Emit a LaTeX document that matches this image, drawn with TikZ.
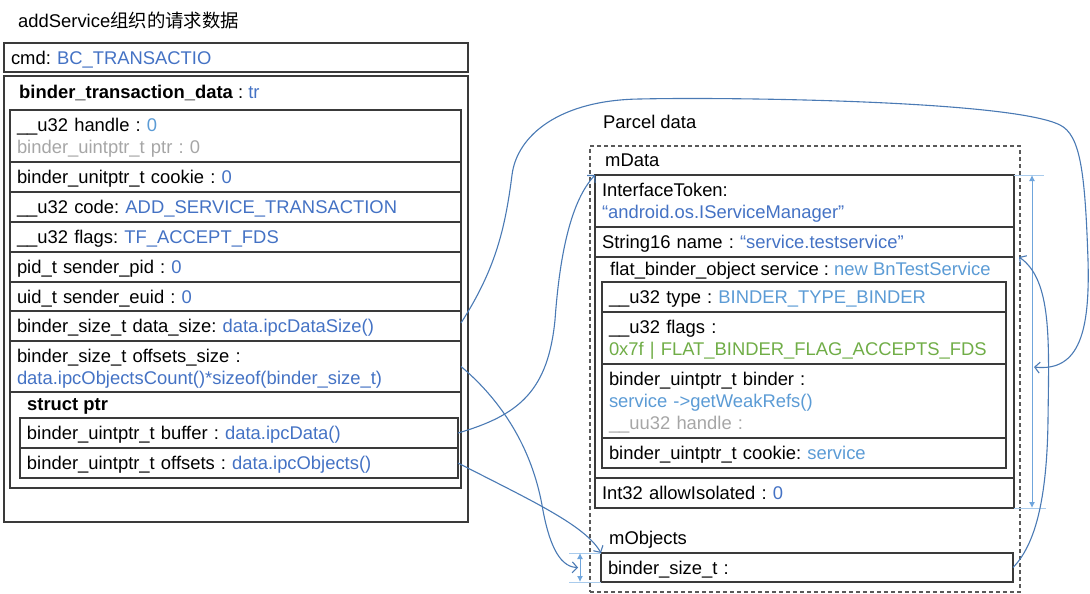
\documentclass[tikz,border=0pt]{standalone}
\usepackage{fontspec}
\setmainfont{Liberation Sans}
\newfontfamily\cjk{Noto Sans CJK SC}
\usetikzlibrary{arrows.meta, positioning}
\definecolor{blueA}{HTML}{4472C4}
\definecolor{blueB}{HTML}{5B9BD5}
\definecolor{greyT}{HTML}{A6A6A6}
\definecolor{greenT}{HTML}{70AD47}
\definecolor{linkblue}{HTML}{4A7AB4}
\definecolor{dimblue}{HTML}{6FA5DC}
\definecolor{extblue}{HTML}{A9CBEC}
\definecolor{edge}{HTML}{3A3A3A}
\newcommand{\blueval}[1]{\textcolor{blueA}{#1}}
\newcommand{\lightval}[1]{\textcolor{blueB}{#1}}
\newcommand{\greyval}[1]{\textcolor{greyT}{#1}}
\newcommand{\greenval}[1]{\textcolor{greenT}{#1}}
\tikzstyle{boxframe} = [rectangle, draw=edge, line width=1.2pt, anchor=north west, inner sep=0pt, outer sep=0pt]
\tikzstyle{row} = [rectangle, draw=edge, line width=1.2pt, anchor=north west, inner xsep=7pt, inner ysep=0pt, outer sep=0pt, align=left, text depth=0pt, minimum height=30pt]
\tikzstyle{twolines} = [text depth=22pt]
\tikzstyle{threelines} = [text depth=44pt]
\tikzstyle{lrow} = [row, text width=437pt]
\tikzstyle{brow} = [row, text width=424pt]
\tikzstyle{prow} = [row, text width=405pt]
\tikzstyle{frow} = [row, text width=390pt]
\tikzstyle{textlabel} = [anchor=west, inner sep=0pt, text depth=0pt]
\tikzstyle{arrow} = [line width=1.1pt, draw=linkblue, -{Straight Barb[length=5pt, width=11pt]}]
\tikzstyle{dimline} = [line width=1pt, draw=dimblue, {Latex[length=6pt, width=6pt]}-{Latex[length=6pt, width=6pt]}]
\tikzstyle{extline} = [line width=1pt, draw=extblue]
\begin{document}
\frenchspacing
\begin{tikzpicture}[x=1pt, y=-1pt, font=\fontsize{18.4pt}{22pt}\selectfont\frenchspacing]
    \useasboundingbox (0,0) rectangle (1090,594);
    % Nodes: request data
    \node (title) [textlabel] at (18,20) {addService{\cjk 组织的请求数据}};
    \node (cmd) [row, text width=450pt, minimum height=29pt] at (4,43) {cmd: \blueval{BC\_TRANSACTIO}};
    \node (tr) [boxframe, minimum width=464pt, minimum height=446pt] at (4,76) {};
    \node (trhead) [textlabel] at (19,92) {\textbf{binder\_transaction\_data} : \blueval{tr}};
    \node (trbody) [boxframe, minimum width=451pt, minimum height=378pt] at (10,110) {};
    \node (handle) [lrow, twolines, minimum height=52pt] at (trbody.north west) {\_\_u32 handle : \lightval{0}\\ \greyval{binder\_uintptr\_t ptr : 0}};
    \node (cookie) [lrow] at (handle.south west) {binder\_unitptr\_t cookie : \blueval{0}};
    \node (code) [lrow] at (cookie.south west) {\_\_u32 code: \blueval{ADD\_SERVICE\_TRANSACTION}};
    \node (flags) [lrow] at (code.south west) {\_\_u32 flags: \blueval{TF\_ACCEPT\_FDS}};
    \node (pid) [lrow] at (flags.south west) {pid\_t sender\_pid : \blueval{0}};
    \node (euid) [lrow, minimum height=29pt] at (pid.south west) {uid\_t sender\_euid : \blueval{0}};
    \node (datasize) [lrow] at (euid.south west) {binder\_size\_t data\_size: \blueval{data.ipcDataSize()}};
    \node (offsize) [lrow, twolines, minimum height=51pt] at (datasize.south west) {binder\_size\_t offsets\_size :\\ \blueval{data.ipcObjectsCount()*sizeof(binder\_size\_t)}};
    \node (ptrhead) [textlabel] at (27,404) {\textbf{struct ptr}};
    \node (buffer) [brow] at (20,418) {binder\_uintptr\_t buffer : \blueval{data.ipcData()}};
    \node (offsets) [brow] at (buffer.south west) {binder\_uintptr\_t offsets : \blueval{data.ipcObjects()}};

    % Nodes: parcel data
    \node (parcelhead) [textlabel] at (603,122) {Parcel data};
    \node (parcel) [boxframe, draw=black!65, dash pattern=on 4pt off 3pt, minimum width=430pt, minimum height=446pt] at (590,146) {};
    \node (mdatahead) [textlabel] at (605,160) {mData};
    \node (token) [prow, twolines, minimum height=52pt] at (595,175) {InterfaceToken:\\ \blueval{“android.os.IServiceManager”}};
    \node (name) [prow] at (token.south west) {String16 name : \blueval{“service.testservice”}};
    \node (flat) [prow, minimum height=221pt] at (name.south west) {};
    \node (flathead) [textlabel] at (610,269) {flat\_binder\_object service : \lightval{new BnTestService}};
    \node (type) [frow] at (602,282) {\_\_u32 type : \lightval{BINDER\_TYPE\_BINDER}};
    \node (bflags) [frow, twolines, minimum height=52pt] at (type.south west) {\_\_u32 flags :\\ \greenval{0x7f | FLAT\_BINDER\_FLAG\_ACCEPTS\_FDS}};
    \node (binder) [frow, threelines, minimum height=74pt] at (bflags.south west) {binder\_uintptr\_t binder :\\ \lightval{service ->getWeakRefs()}\\ \greyval{\_\_uu32 handle :}};
    \node (bcookie) [frow] at (binder.south west) {binder\_uintptr\_t cookie: \lightval{service}};
    \node (isolated) [prow] at (flat.south west) {Int32 allowIsolated : \blueval{0}};
    \node (mobjhead) [textlabel] at (609,538) {mObjects};
    \node (sizebox) [row, text width=398pt, minimum height=29pt] at (601,553) {binder\_size\_t :};

    % Size marks
    \coordinate (dimtop) at ([xshift=18pt]token.north east);
    \coordinate (dimbot) at ([xshift=18pt]isolated.south east);
    \coordinate (sizehit) at ([xshift=28pt, yshift=-3pt]bflags.south east);
    \coordinate (sdimtop) at ([xshift=-21pt]sizebox.north west);
    \coordinate (sdimbot) at ([xshift=-21pt]sizebox.south west);
    \coordinate (sdimhit) at ([xshift=-23pt]sizebox.west);
    \draw [extline] (token.north east) -- ++(30,0);
    \draw [extline] (isolated.south east) -- ++(32,0);
    \draw [dimline] (dimtop) -- (dimbot);
    \draw [extline] (sizebox.north west) -- ++(-32,0);
    \draw [extline] (sizebox.south west) -- ++(-32,0);
    \draw [dimline] (sdimtop) -- (sdimbot);

    % Arrows
    \draw [arrow] ([yshift=3pt]datasize.east) .. controls (495,270) and (505,230) .. (512,175)
        .. controls (517,135) and (560,100) .. (640,99)
        .. controls (720,97) and (1010,100) .. (1060,125)
        .. controls (1080,135) and (1085,170) .. (1088,260)
        .. controls (1090,330) and (1080,372) .. (sizehit);
    \draw [arrow] (buffer.east) .. controls (520,415) and (548,390) .. (555,320)
        .. controls (560,250) and (572,200) .. (token.north west);
    \draw [arrow] (offsize.east) .. controls (495,395) and (530,440) .. (542,505)
        .. controls (548,540) and (558,567) .. (sdimhit);
    \draw [arrow] (offsets.east) .. controls (530,500) and (585,525) .. (sizebox.north west);
    \draw [arrow] (sizebox.east) .. controls (1035,545) and (1047,500) .. (1048,420)
        .. controls (1049,340) and (1052,280) .. ([xshift=5pt]flat.north east);
\end{tikzpicture}
\end{document}
